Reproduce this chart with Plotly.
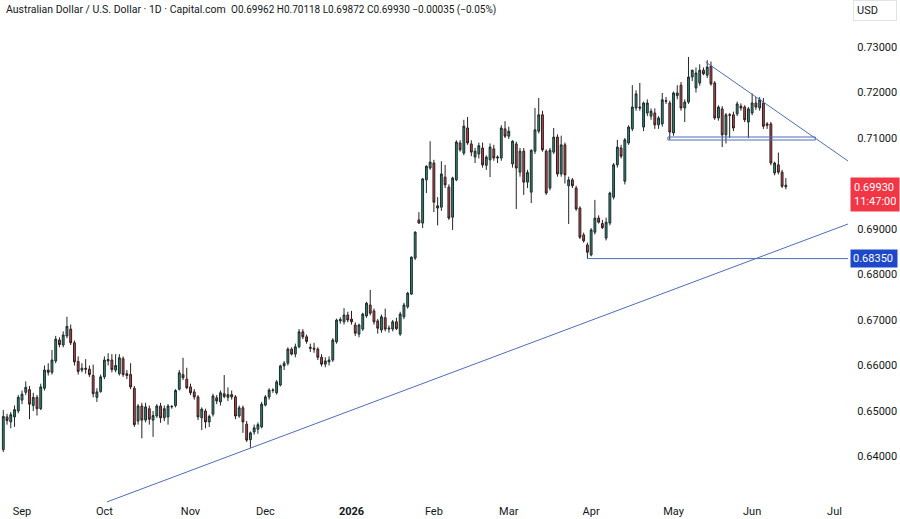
import plotly.graph_objects as go
import pandas as pd

# ---------------- data ----------------
opens = [
    .6415, .6487, .6476, .6487, .6500, .6524, .6541, .6547, .6512, .6530,
    .6505, .6550, .6590, .6585, .6610, .6656, .6645, .6665, .6680, .6650,
    .6609, .6590, .6594, .6592, .6578, .6530, .6543, .6575, .6610, .6612,
    .6590, .6582, .6615, .6582, .6580, .6550, .6478, .6511, .6480, .6505,
    .6480, .6489, .6511, .6485, .6487, .6509, .6512, .6548, .6580, .6570,
    .6553, .6542, .6531, .6485, .6500, .6476, .6493, .6529, .6520, .6538,
    .6530, .6536, .6531, .6489, .6507, .6471, .6437, .6454, .6460, .6465,
    .6513, .6531, .6545, .6540, .6557, .6599, .6605, .6636, .6625, .6641,
    .6674, .6663, .6640, .6638, .6636, .6618, .6603, .6608, .6612, .6652,
    .6698, .6696, .6711, .6702, .6689, .6669, .6680, .6709, .6733, .6720,
    .6698, .6678, .6705, .6680, .6680, .6696, .6669, .6707, .6729, .6757,
    .6836, .6920, .6913, .7008, .7034, .7045, .6951, .6948, .7014, .6992,
    .6926, .7008, .7089, .7067, .7122, .7087, .7058, .7065, .7078, .7040,
    .7052, .7076, .7056, .7056, .7120, .7104, .7043, .7087, .7025, .7071,
    .7003, .6981, .7071, .7115, .7151, .7071, .6990, .7069, .7102, .7021,
    .7085, .6995, .7008, .6990, .6946, .6887, .6865, .6843, .6893, .6924,
    .6912, .6880, .6913, .6970, .7041, .7078, .7005, .7089, .7120, .7166,
    .7168, .7124, .7155, .7148, .7155, .7129, .7131, .7182, .7177, .7111,
    .7193, .7216, .7166, .7179, .7234, .7210, .7221, .7249, .7238, .7258,
    .7221, .7144, .7164, .7107, .7151, .7151, .7153, .7170, .7168, .7135,
    .7155, .7177, .7166, .7177, .7131, .7131, .7023, .7041, .7025, .69962,
]
highs = [
    .6502, .6494, .6498, .6512, .6535, .6545, .6565, .6555, .6540, .6535,
    .6560, .6600, .6605, .6634, .6665, .6662, .6675, .6707, .6690, .6655,
    .6620, .6605, .6614, .6600, .6602, .6550, .6580, .6620, .6627, .6625,
    .6625, .6625, .6620, .6590, .6605, .6555, .6515, .6518, .6518, .6512,
    .6500, .6515, .6518, .6512, .6515, .6513, .6548, .6590, .6617, .6595,
    .6560, .6548, .6535, .6508, .6505, .6492, .6538, .6535, .6545, .6579,
    .6552, .6545, .6535, .6512, .6512, .6478, .6455, .6470, .6475, .6520,
    .6535, .6550, .6550, .6568, .6602, .6610, .6640, .6640, .6648, .6680,
    .6680, .6668, .6648, .6650, .6640, .6625, .6618, .6620, .6660, .6703,
    .6706, .6726, .6718, .6720, .6695, .6692, .6716, .6740, .6766, .6725,
    .6702, .6712, .6725, .6688, .6700, .6705, .6718, .6738, .6762, .6840,
    .6895, .6937, .7012, .7040, .7093, .7052, .6970, .7049, .7041, .6998,
    .7015, .7095, .7095, .7140, .7146, .7095, .7078, .7090, .7090, .7062,
    .7088, .7085, .7062, .7128, .7137, .7125, .7095, .7092, .7078, .7078,
    .7030, .7075, .7166, .7188, .7160, .7075, .7078, .7122, .7108, .7105,
    .7090, .7015, .7012, .6995, .6950, .6892, .6870, .6902, .6964, .6930,
    .6920, .6925, .6982, .7045, .7096, .7085, .7100, .7128, .7216, .7205,
    .7221, .7180, .7185, .7165, .7165, .7148, .7199, .7190, .7182, .7202,
    .7216, .7223, .7185, .7278, .7250, .7255, .7262, .7255, .7271, .7268,
    .7225, .7172, .7170, .7155, .7155, .7158, .7180, .7176, .7172, .7168,
    .7198, .7190, .7190, .7188, .7135, .7135, .7048, .7068, .7030, .70118,
]
lows = [
    .6410, .6470, .6462, .6465, .6495, .6515, .6535, .6482, .6500, .6490,
    .6502, .6545, .6578, .6580, .6605, .6640, .6640, .6660, .6645, .6600,
    .6580, .6585, .6582, .6575, .6530, .6520, .6540, .6570, .6600, .6585,
    .6585, .6578, .6575, .6570, .6548, .6465, .6470, .6440, .6475, .6470,
    .6443, .6485, .6474, .6478, .6470, .6505, .6508, .6545, .6568, .6548,
    .6535, .6525, .6480, .6458, .6462, .6465, .6488, .6515, .6512, .6528,
    .6522, .6525, .6482, .6485, .6452, .6432, .6419, .6448, .6450, .6462,
    .6510, .6525, .6540, .6536, .6554, .6590, .6600, .6622, .6618, .6638,
    .6658, .6648, .6630, .6628, .6612, .6598, .6596, .6600, .6608, .6648,
    .6692, .6690, .6695, .6690, .6665, .6662, .6676, .6705, .6710, .6690,
    .6670, .6672, .6675, .6672, .6675, .6678, .6665, .6702, .6725, .6755,
    .6832, .6912, .6902, .6979, .7030, .6937, .6908, .6940, .6990, .6920,
    .6898, .7005, .7070, .7062, .7085, .7060, .7045, .7055, .7035, .7030,
    .7014, .7050, .7045, .7050, .7100, .7098, .7035, .6944, .7015, .6975,
    .6990, .6957, .7065, .7110, .7070, .6975, .6985, .7065, .7015, .7015,
    .7000, .6911, .6990, .6940, .6878, .6870, .6835, .6840, .6888, .6912,
    .6900, .6875, .6908, .6965, .7035, .7055, .6998, .7085, .7115, .7160,
    .7160, .7115, .7148, .7140, .7120, .7120, .7125, .7175, .7096, .7105,
    .7185, .7160, .7135, .7175, .7225, .7200, .7215, .7238, .7232, .7215,
    .7140, .7138, .7080, .7088, .7100, .7115, .7148, .7160, .7135, .7100,
    .7150, .7162, .7160, .7120, .7120, .7040, .7018, .7020, .6990, .69872,
]
closes = [
    .6488, .6479, .6492, .6503, .6530, .6537, .6552, .6515, .6530, .6505,
    .6553, .6590, .6585, .6612, .6658, .6646, .6667, .6686, .6650, .6608,
    .6587, .6594, .6592, .6580, .6538, .6542, .6575, .6612, .6613, .6591,
    .6600, .6617, .6580, .6578, .6553, .6470, .6511, .6480, .6509, .6482,
    .6490, .6511, .6485, .6505, .6511, .6510, .6545, .6584, .6573, .6551,
    .6540, .6531, .6487, .6504, .6476, .6488, .6533, .6522, .6540, .6532,
    .6536, .6531, .6489, .6507, .6476, .6436, .6452, .6463, .6470, .6515,
    .6531, .6546, .6546, .6564, .6599, .6605, .6636, .6625, .6641, .6674,
    .6663, .6653, .6638, .6636, .6618, .6603, .6610, .6612, .6656, .6700,
    .6701, .6711, .6700, .6696, .6671, .6689, .6713, .6737, .6715, .6696,
    .6682, .6707, .6680, .6682, .6696, .6681, .6713, .6733, .6759, .6838,
    .6893, .6913, .7010, .7038, .7047, .6959, .6946, .7021, .6997, .6924,
    .7012, .7091, .7074, .7126, .7089, .7069, .7071, .7083, .7041, .7058,
    .7080, .7056, .7058, .7122, .7104, .7115, .7093, .7034, .7071, .7003,
    .7024, .7073, .7118, .7151, .7074, .6979, .7073, .7102, .7021, .7085,
    .7019, .7008, .6995, .6944, .6882, .6874, .6849, .6898, .6924, .6915,
    .6903, .6915, .6979, .7041, .7080, .7060, .7096, .7124, .7168, .7197,
    .7166, .7177, .7177, .7159, .7129, .7144, .7184, .7181, .7113, .7199,
    .7199, .7166, .7179, .7234, .7249, .7243, .7249, .7241, .7256, .7219,
    .7144, .7168, .7107, .7151, .7150, .7122, .7175, .7166, .7140, .7164,
    .7177, .7168, .7184, .7126, .7128, .7045, .7045, .7025, .6994, .69930,
]
last_date = "2026-06-12"
axis_end_date = "2026-07-31"
# 0.70000 is hidden behind the last-price label in the reference
y_ticks = [0.64, 0.65, 0.66, 0.67, 0.68, 0.69, 0.71, 0.72, 0.73]
month_names = {1: "<b>2026</b>", 2: "Feb", 3: "Mar", 4: "Apr", 5: "May", 6: "Jun",
               7: "Jul", 8: "Aug", 9: "Sep", 10: "Oct", 11: "Nov", 12: "Dec"}

# drawings: (bar position, price)
support_trend = [(27.7, 0.63002), (225.6, 0.69110)]
resistance_trend = [(187.6, 0.72670), (225.6, 0.70495)]
support_level = 0.68350
support_start = 155.9
zone = dict(x0=177.5, x1=216.9, y0=0.70956, y1=0.71022)
last_price_text = "0.69930<br>11:47:00"
title_name = "Australian Dollar / U.S. Dollar · 1D · Capital.com"
title_ohlc = "O0.69962 H0.70118 L0.69872 C0.69930 −0.00035 (−0.05%)"

# ---------------- build ----------------
n = len(closes)
dates = pd.bdate_range(end=last_date, periods=n)
full = pd.bdate_range(start=dates[0], end=axis_end_date)
xs = list(range(n))

tickvals, ticktext = [], []
prev_month = None
for i, d in enumerate(full):
    if prev_month is not None and d.month != prev_month:
        tickvals.append(i)
        ticktext.append(month_names[d.month])
    prev_month = d.month

FONT = "Roboto, Arial, sans-serif"
TXT = "#131722"
BLUE_LINE = "#4d6fb5"

fig = go.Figure()
fig.add_trace(go.Candlestick(
    x=xs, open=opens, high=highs, low=lows, close=closes,
    increasing=dict(line=dict(color="#1f2a2a", width=1), fillcolor="#2a8c76"),
    decreasing=dict(line=dict(color="#2a1f1f", width=1), fillcolor="#c9444d"),
    whiskerwidth=0, showlegend=False, hoverinfo="skip",
))

shapes = [
    dict(type="line", xref="x", yref="y", x0=support_trend[0][0], y0=support_trend[0][1],
         x1=support_trend[1][0], y1=support_trend[1][1], line=dict(color=BLUE_LINE, width=1)),
    dict(type="line", xref="x", yref="y", x0=resistance_trend[0][0], y0=resistance_trend[0][1],
         x1=resistance_trend[1][0], y1=resistance_trend[1][1], line=dict(color=BLUE_LINE, width=1)),
    dict(type="line", xref="x", yref="y", x0=support_start, y0=support_level,
         x1=240, y1=support_level, line=dict(color=BLUE_LINE, width=1)),
    dict(type="rect", xref="x", yref="y", **zone, line=dict(color=BLUE_LINE, width=1),
         fillcolor="rgba(0,0,0,0)"),
]

title_html = (f"{title_name}&nbsp;&nbsp;"
              f"<span style='font-size:10px'>{title_ohlc.replace(' ', '&nbsp;')}</span>")

annotations = [
    dict(xref="paper", yref="paper", x=0, y=1, xanchor="left", yanchor="top",
         xshift=4, yshift=-1, text=title_html, showarrow=False,
         font=dict(family=FONT, size=10.5, color=TXT)),
    dict(xref="paper", yref="y", x=1, y=closes[-1], xanchor="left", yanchor="middle",
         xshift=2, yshift=-8, text=last_price_text, showarrow=False, align="left",
         bgcolor="#f23645", borderpad=3, width=42,
         font=dict(family=FONT, size=11, color="white")),
    dict(xref="paper", yref="y", x=1, y=support_level, xanchor="left", yanchor="middle",
         xshift=2, text=f"{support_level:.5f}", showarrow=False, align="left",
         bgcolor="#1c48c9", borderpad=2, width=42,
         font=dict(family=FONT, size=11, color="white")),
    dict(xref="paper", yref="paper", x=1, y=1, xanchor="left", yanchor="top",
         xshift=5, yshift=0, text="USD", showarrow=False, align="left",
         bgcolor="white", bordercolor="#e0e3eb", borderwidth=1, borderpad=3, width=36,
         font=dict(family=FONT, size=11, color=TXT)),
]

fig.update_layout(
    width=900, height=519,
    margin=dict(l=0, r=52, t=0, b=16),
    paper_bgcolor="white", plot_bgcolor="white",
    shapes=shapes, annotations=annotations,
    font=dict(family=FONT, size=11, color=TXT),
    xaxis=dict(range=[-0.88, 225.6], tickvals=tickvals, ticktext=ticktext,
               showgrid=False, zeroline=False, showline=False, ticks="",
               rangeslider=dict(visible=False), fixedrange=True,
               tickfont=dict(family=FONT, size=11, color=TXT)),
    yaxis=dict(range=[0.62978, 0.74033], side="right", tickvals=y_ticks,
               tickformat=".5f", showgrid=False, zeroline=False, showline=False,
               ticks="outside", ticklen=6, tickcolor="white",
               tickfont=dict(family=FONT, size=11, color=TXT)),
)

fig.write_html("out.html")
